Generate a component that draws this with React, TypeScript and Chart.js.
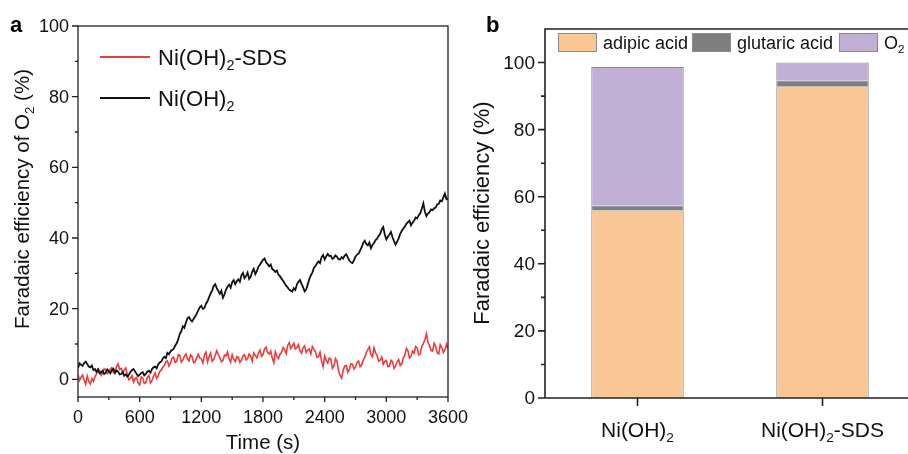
import React, { useEffect, useRef } from "react";
import { Chart, registerables } from "chart.js";
Chart.register(...registerables);

// ---------- Panel a data ----------
const timeS = [
  0, 15, 30, 45, 60, 75, 90, 105, 120, 135, 150, 165, 180, 195, 210, 225, 240, 255, 270, 285,
  300, 315, 330, 345, 360, 375, 390, 405, 420, 435, 450, 465, 480, 495, 510, 525, 540, 555, 570, 585,
  600, 615, 630, 645, 660, 675, 690, 705, 720, 735, 750, 765, 780, 795, 810, 825, 840, 855, 870, 885,
  900, 915, 930, 945, 960, 975, 990, 1005, 1020, 1035, 1050, 1065, 1080, 1095, 1110, 1125, 1140, 1155, 1170, 1185,
  1200, 1215, 1230, 1245, 1260, 1275, 1290, 1305, 1320, 1335, 1350, 1365, 1380, 1395, 1410, 1425, 1440, 1455, 1470, 1485,
  1500, 1515, 1530, 1545, 1560, 1575, 1590, 1605, 1620, 1635, 1650, 1665, 1680, 1695, 1710, 1725, 1740, 1755, 1770, 1785,
  1800, 1815, 1830, 1845, 1860, 1875, 1890, 1905, 1920, 1935, 1950, 1965, 1980, 1995, 2010, 2025, 2040, 2055, 2070, 2085,
  2100, 2115, 2130, 2145, 2160, 2175, 2190, 2205, 2220, 2235, 2250, 2265, 2280, 2295, 2310, 2325, 2340, 2355, 2370, 2385,
  2400, 2415, 2430, 2445, 2460, 2475, 2490, 2505, 2520, 2535, 2550, 2565, 2580, 2595, 2610, 2625, 2640, 2655, 2670, 2685,
  2700, 2715, 2730, 2745, 2760, 2775, 2790, 2805, 2820, 2835, 2850, 2865, 2880, 2895, 2910, 2925, 2940, 2955, 2970, 2985,
  3000, 3015, 3030, 3045, 3060, 3075, 3090, 3105, 3120, 3135, 3150, 3165, 3180, 3195, 3210, 3225, 3240, 3255, 3270, 3285,
  3300, 3315, 3330, 3345, 3360, 3375, 3390, 3405, 3420, 3435, 3450, 3465, 3480, 3495, 3510, 3525, 3540, 3555, 3570, 3585,
  3600,
];

const feNiOH2 = [
  3.2, 4.5, 4.1, 3.8, 4.6, 5.0, 4.3, 3.6, 3.4, 3.9, 2.6, 2.9, 2.1, 2.8, 1.7, 2.0, 2.4, 1.5, 1.9, 2.8,
  2.3, 1.7, 2.6, 3.0, 1.8, 2.5, 2.2, 1.4, 1.5, 2.0, 1.0, 1.4, 0.8, 1.3, 2.1, 2.6, 2.9, 2.2, 1.6, 0.9,
  1.3, 1.8, 2.0, 1.1, 1.5, 2.2, 2.4, 1.9, 2.9, 3.4, 3.6, 3.1, 4.2, 4.8, 5.0, 5.9, 6.4, 6.0, 7.5, 7.1,
  7.9, 8.3, 8.6, 9.5, 10.2, 11.3, 12.8, 13.6, 15.0, 14.6, 16.1, 17.3, 17.6, 16.8, 16.4, 17.1, 17.8, 18.6, 19.5, 20.4,
  20.8, 19.9, 20.2, 21.4, 22.1, 23.2, 24.3, 25.1, 26.4, 26.9, 25.8, 25.0, 24.2, 25.1, 23.1, 24.0, 25.4, 26.2, 26.8, 25.9,
  27.5, 28.1, 26.9, 27.8, 28.3, 27.6, 29.4, 30.1, 28.6, 29.2, 30.2, 28.4, 29.0, 30.5, 31.3, 29.8, 30.6, 31.9, 32.4, 33.2,
  33.8, 34.2, 33.1, 32.6, 32.0, 32.5, 31.2, 30.9, 30.4, 30.8, 29.6, 29.2, 28.5, 27.9, 27.2, 26.5, 26.0, 25.4, 25.1, 24.8,
  25.8, 25.3, 26.9, 27.6, 28.1, 27.0, 26.0, 24.9, 25.4, 26.8, 28.3, 29.4, 30.2, 31.5, 32.1, 32.8, 33.4, 32.9, 34.6, 35.2,
  33.9, 34.8, 35.5, 34.9, 35.0, 34.1, 34.4, 35.1, 34.7, 34.0, 33.9, 34.6, 34.2, 35.0, 35.4, 34.5, 33.6, 33.1, 32.9, 33.7,
  34.8, 35.3, 35.6, 36.5, 37.4, 38.6, 39.2, 38.3, 37.9, 38.7, 37.1, 38.0, 38.6, 39.4, 39.8, 40.6, 41.2, 42.4, 43.1, 41.0,
  39.6, 40.4, 41.0, 41.7, 40.2, 39.1, 38.1, 39.0, 39.9, 41.2, 42.0, 42.7, 43.2, 44.0, 44.5, 44.9, 43.6, 44.3, 44.9, 45.8,
  45.6, 46.4, 47.0, 48.3, 49.8, 47.5, 46.2, 46.9, 47.3, 48.1, 47.9, 48.4, 48.6, 49.5, 49.7, 50.6, 50.4, 51.5, 52.6, 51.0,
  51.2,
];

const feNiOH2SDS = [
  1.4, -0.3, 0.6, 1.2, -0.2, -1.4, 0.9, -0.5, -1.3, 0.2, -0.6, 0.8, 1.5, 2.9, 2.4, 1.1, 1.8, 3.0, 2.7, 1.6,
  2.0, 2.9, 3.3, 1.9, 2.2, 3.6, 4.4, 2.8, 3.1, 1.9, 2.6, 3.2, 1.2, -0.1, 0.3, 1.1, -0.8, 0.2, 0.5, -1.1,
  -1.6, 0.7, 0.4, -1.2, -0.9, 0.6, 1.1, -1.0, -0.4, 0.9, 1.8, 0.3, 1.0, 2.2, 2.6, 3.4, 3.9, 5.0, 5.2, 3.8,
  4.6, 6.0, 6.3, 4.8, 5.1, 7.0, 6.8, 4.9, 5.5, 6.5, 7.2, 5.8, 5.2, 6.9, 6.4, 4.7, 5.0, 6.2, 7.1, 6.0,
  5.8, 4.6, 6.9, 7.7, 4.9, 6.3, 7.4, 5.1, 5.6, 6.8, 8.1, 7.0, 6.2, 5.0, 5.3, 6.9, 6.6, 7.8, 5.8, 4.9,
  6.9, 5.7, 5.0, 6.4, 6.2, 4.8, 5.4, 6.6, 7.0, 5.5, 5.9, 7.2, 6.6, 5.1, 7.5, 6.8, 6.1, 7.4, 8.3, 6.5,
  7.0, 8.6, 9.1, 7.6, 7.2, 8.0, 6.0, 4.7, 7.8, 6.5, 5.9, 7.1, 7.6, 9.0, 8.4, 7.3, 9.6, 10.4, 8.7, 9.5,
  10.2, 8.6, 9.0, 9.8, 8.1, 7.4, 8.9, 9.5, 7.6, 8.3, 8.6, 7.2, 9.3, 8.5, 7.8, 6.2, 6.4, 7.7, 5.2, 3.6,
  6.6, 5.4, 4.6, 6.0, 5.7, 3.1, 3.8, 5.9, 5.1, 2.4, 1.1, 0.3, 2.6, 3.8, 3.9, 2.0, 2.8, 4.4, 4.3, 2.9,
  3.5, 4.8, 5.2, 3.6, 4.1, 5.5, 6.2, 7.6, 8.4, 9.2, 7.0, 6.4, 8.9, 7.5, 6.8, 5.1, 5.4, 6.3, 4.2, 5.0,
  5.3, 3.6, 3.7, 5.4, 5.0, 3.1, 3.8, 4.9, 5.6, 3.9, 4.4, 6.1, 6.9, 8.8, 8.1, 6.0, 6.5, 8.0, 7.4, 9.3,
  8.9, 6.9, 7.2, 9.4, 10.1, 11.2, 12.9, 10.5, 9.6, 8.2, 8.0, 10.2, 9.4, 7.5, 7.2, 9.8, 9.0, 7.6, 8.3, 9.9,
  8.8,
];

const lineLegend = ["Ni(OH)_2-SDS", "Ni(OH)_2"];
const aXMajor = [0, 600, 1200, 1800, 2400, 3000, 3600];
const aXMinor = [300, 900, 1500, 2100, 2700, 3300];
const aYMajor = [0, 20, 40, 60, 80, 100];
const aYMinor = [10, 30, 50, 70, 90];

// ---------- Panel b data ----------
const categories = ["Ni(OH)_2", "Ni(OH)_2-SDS"];
const seriesNames = ["adipic acid", "glutaric acid", "O_2"];
const adipic = [55.9, 92.9];
const glutaric = [1.4, 1.7];
const oxygen = [41.4, 5.4];
const bYMajor = [0, 20, 40, 60, 80, 100];
const bYMinor = [10, 30, 50, 70, 90];

const FONT = '"Liberation Sans", Arial, sans-serif';

function parseRich(s: string) {
  const segs: { t: string; sub: boolean }[] = [];
  let buf = "";
  for (let i = 0; i < s.length; i++) {
    if (s[i] === "_") {
      if (buf) segs.push({ t: buf, sub: false });
      buf = "";
      segs.push({ t: s[i + 1], sub: true });
      i++;
    } else buf += s[i];
  }
  if (buf) segs.push({ t: buf, sub: false });
  return segs;
}

function drawRich(ctx: CanvasRenderingContext2D, s: string, x: number, y: number, size: number, align: "left" | "center" | "right", weight = "") {
  const segs = parseRich(s);
  const f = (sz: number) => `${weight} ${sz}px ${FONT}`;
  let w = 0;
  const ws = segs.map((sg) => {
    ctx.font = sg.sub ? f(size * 0.65) : f(size);
    const m = ctx.measureText(sg.t).width;
    w += m;
    return m;
  });
  let cx = align === "left" ? x : align === "center" ? x - w / 2 : x - w;
  ctx.textAlign = "left";
  ctx.textBaseline = "alphabetic";
  segs.forEach((sg, i) => {
    ctx.font = sg.sub ? f(size * 0.65) : f(size);
    ctx.fillText(sg.t, cx, sg.sub ? y + size * 0.23 : y);
    cx += ws[i];
  });
}

const RED = "#EE3B3B";
const BLACK = "#111111";
const C_ADIPIC = "#F9C795";
const C_GLUT = "#7F7F7F";
const C_O2 = "#C1AFD5";

export default function App() {
  const refA = useRef<HTMLCanvasElement>(null);
  const refB = useRef<HTMLCanvasElement>(null);

  useEffect(() => {
    const axisPluginA = {
      id: "axA",
      afterDraw(chart: any) {
        const ctx = chart.ctx as CanvasRenderingContext2D;
        const { left, right, top, bottom } = chart.chartArea;
        const xs = chart.scales.x;
        const ys = chart.scales.y;
        ctx.save();
        ctx.strokeStyle = "#222";
        ctx.lineWidth = 1.3;
        ctx.strokeRect(left, top, right - left, bottom - top);
        ctx.beginPath();
        aYMajor.forEach((v) => {
          const p = ys.getPixelForValue(v);
          ctx.moveTo(left - 6, p);
          ctx.lineTo(left, p);
        });
        aYMinor.forEach((v) => {
          const p = ys.getPixelForValue(v);
          ctx.moveTo(left - 3, p);
          ctx.lineTo(left, p);
        });
        aXMajor.forEach((v) => {
          const p = xs.getPixelForValue(v);
          ctx.moveTo(p, bottom);
          ctx.lineTo(p, bottom + 5);
        });
        aXMinor.forEach((v) => {
          const p = xs.getPixelForValue(v);
          ctx.moveTo(p, bottom);
          ctx.lineTo(p, bottom + 3);
        });
        ctx.stroke();
        ctx.fillStyle = "#111";
        ctx.font = `18px ${FONT}`;
        ctx.textAlign = "right";
        ctx.textBaseline = "middle";
        aYMajor.forEach((v) => ctx.fillText(String(v), left - 9, ys.getPixelForValue(v) + 1));
        ctx.textAlign = "center";
        ctx.textBaseline = "alphabetic";
        aXMajor.forEach((v) => ctx.fillText(String(v), xs.getPixelForValue(v), 423));
        ctx.font = `20.5px ${FONT}`;
        ctx.fillText("Time (s)", (left + right) / 2, 449);
        ctx.save();
        ctx.translate(29, 199);
        ctx.rotate(-Math.PI / 2);
        drawRich(ctx, "Faradaic efficiency of O_2 (%)", 0, 0, 20.5, "center");
        ctx.restore();
        // legend
        const legColors = [RED, BLACK];
        const legY = [57, 98];
        const legBase = [65, 106];
        lineLegend.forEach((name, i) => {
          ctx.strokeStyle = legColors[i];
          ctx.lineWidth = 1.8;
          ctx.beginPath();
          ctx.moveTo(100, legY[i]);
          ctx.lineTo(150, legY[i]);
          ctx.stroke();
          ctx.fillStyle = "#111";
          drawRich(ctx, name, 158, legBase[i], 22, "left");
        });
        ctx.fillStyle = "#000";
        drawRich(ctx, "a", 10, 32, 22, "left", "bold");
        ctx.restore();
      },
    };

    const chartA = new Chart(refA.current!, {
      type: "line",
      data: {
        datasets: [
          {
            label: "Ni(OH)2",
            data: timeS.map((t, i) => ({ x: t, y: feNiOH2[i] })),
            borderColor: BLACK,
            borderWidth: 1.8,
            pointRadius: 0,
            tension: 0,
          },
          {
            label: "Ni(OH)2-SDS",
            data: timeS.map((t, i) => ({ x: t, y: feNiOH2SDS[i] })),
            borderColor: RED,
            borderWidth: 1.6,
            pointRadius: 0,
            tension: 0,
          },
        ],
      },
      options: {
        animation: false,
        responsive: false,
        devicePixelRatio: 1,
        layout: { padding: { left: 78, top: 26, right: 32, bottom: 57 } },
        plugins: { legend: { display: false }, tooltip: { enabled: false } },
        scales: {
          x: { type: "linear", min: 0, max: 3600, display: false },
          y: { type: "linear", min: -5, max: 100, display: false },
        },
      },
      plugins: [axisPluginA],
    } as any);

    const axisPluginB = {
      id: "axB",
      afterDraw(chart: any) {
        const ctx = chart.ctx as CanvasRenderingContext2D;
        const { left, top, bottom } = chart.chartArea;
        const xs = chart.scales.x;
        const ys = chart.scales.y;
        ctx.save();
        ctx.strokeStyle = "#222";
        ctx.lineWidth = 1.6;
        ctx.beginPath();
        ctx.moveTo(chart.width, top);
        ctx.lineTo(left, top);
        ctx.lineTo(left, bottom);
        ctx.lineTo(chart.width, bottom);
        bYMajor.forEach((v) => {
          const p = ys.getPixelForValue(v);
          ctx.moveTo(left - 7, p);
          ctx.lineTo(left, p);
        });
        bYMinor.forEach((v) => {
          const p = ys.getPixelForValue(v);
          ctx.moveTo(left - 4, p);
          ctx.lineTo(left, p);
        });
        categories.forEach((_, i) => {
          const p = xs.getPixelForValue(i);
          ctx.moveTo(p, bottom);
          ctx.lineTo(p, bottom + 8);
        });
        ctx.stroke();
        ctx.fillStyle = "#111";
        ctx.font = `19px ${FONT}`;
        ctx.textAlign = "right";
        ctx.textBaseline = "middle";
        bYMajor.forEach((v) => ctx.fillText(String(v), left - 10, ys.getPixelForValue(v) + 1));
        categories.forEach((c, i) => drawRich(ctx, c, xs.getPixelForValue(i), 437, 21, "center"));
        ctx.save();
        ctx.translate(29, 213);
        ctx.rotate(-Math.PI / 2);
        drawRich(ctx, "Faradaic efficiency (%)", 0, 0, 22, "center");
        ctx.restore();
        // legend
        const colors = [C_ADIPIC, C_GLUT, C_O2];
        const boxX = [98, 232, 379];
        seriesNames.forEach((n, i) => {
          ctx.fillStyle = colors[i];
          ctx.fillRect(boxX[i], 33, 39, 19);
          ctx.strokeStyle = "#8c8c8c";
          ctx.lineWidth = 1;
          ctx.strokeRect(boxX[i] + 0.5, 33.5, 38, 18);
          ctx.fillStyle = "#111";
          drawRich(ctx, n, boxX[i] + 45, 49, 18, "left");
        });
        ctx.fillStyle = "#000";
        drawRich(ctx, "b", 26, 32, 22, "left", "bold");
        ctx.restore();
      },
    };

    const chartB = new Chart(refB.current!, {
      type: "bar",
      data: {
        labels: categories,
        datasets: [
          { label: "adipic acid", data: adipic, backgroundColor: C_ADIPIC, borderColor: "#8c8c8c", borderWidth: 1 },
          { label: "glutaric acid", data: glutaric, backgroundColor: C_GLUT, borderColor: "#8c8c8c", borderWidth: 1 },
          { label: "O2", data: oxygen, backgroundColor: C_O2, borderColor: "#8c8c8c", borderWidth: 1 },
        ],
      },
      options: {
        animation: false,
        responsive: false,
        devicePixelRatio: 1,
        layout: { padding: { left: 85, top: 29, right: 15, bottom: 56 } },
        datasets: { bar: { barPercentage: 0.5, categoryPercentage: 1.0 } },
        plugins: { legend: { display: false }, tooltip: { enabled: false } },
        scales: {
          x: { type: "category", stacked: true, offset: true, display: false },
          y: { type: "linear", stacked: true, min: 0, max: 110, display: false },
        },
      },
      plugins: [axisPluginB],
    } as any);

    return () => {
      chartA.destroy();
      chartB.destroy();
    };
  }, []);

  return (
    <div style={{ position: "fixed", left: 0, top: 0, width: 908, height: 454, overflow: "hidden", background: "#fff" }}>
      <canvas ref={refA} width={480} height={454} style={{ position: "absolute", left: 0, top: 0, width: 480, height: 454 }} />
      <canvas ref={refB} width={470} height={454} style={{ position: "absolute", left: 460, top: 0, width: 470, height: 454 }} />
    </div>
  );
}
